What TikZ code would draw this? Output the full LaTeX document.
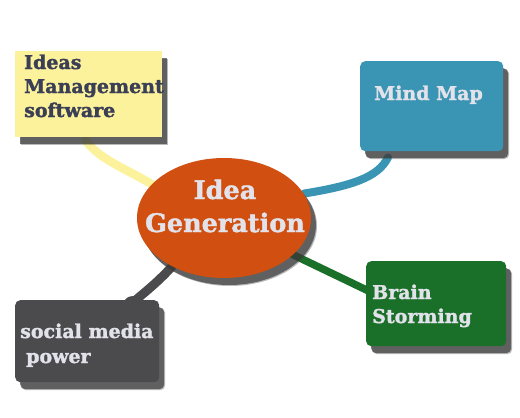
\documentclass[tikz,border=0pt]{standalone}
\usepackage{fontspec}
\setmainfont{DejaVu Serif}[BoldFeatures={FakeBold=1.6}]
\usetikzlibrary{calc,shapes.geometric}
\pgfdeclarelayer{bg}
\pgfdeclarelayer{conn}
\pgfsetlayers{bg,conn,main}
\definecolor{ybox}{HTML}{FDF29C}
\definecolor{ytext}{HTML}{3B3F55}
\definecolor{bbox}{HTML}{3A94B4}
\definecolor{gbox}{HTML}{1B7029}
\definecolor{dbox}{HTML}{4B4A4D}
\definecolor{ell}{HTML}{D14F10}
\definecolor{ltext}{HTML}{E2E2EA}
\definecolor{shad}{HTML}{3A3A3A}
\tikzset{
  boxtext/.style={anchor=base west, inner sep=0pt, align=left, font=\bfseries\fontsize{19}{24}\selectfont},
  conn/.style={line width=8.5pt, line cap=round},
  shadowed/.style={preaction={fill=shad, opacity=0.35, transform canvas={shift={(6pt,-8pt)}}},
                   preaction={fill=shad, opacity=0.7, transform canvas={shift={(5pt,-7pt)}}}},
  rbox/.style={shadowed, rounded corners=5pt, inner sep=0pt, anchor=north west},
}
\begin{document}
\begin{tikzpicture}[x=1pt,y=-1pt]
\begin{pgfonlayer}{bg}
\fill[white] (0,0) rectangle (520,418);
\end{pgfonlayer}
\useasboundingbox (0,0) rectangle (520,418);
% boxes
\node[shadowed, fill=ybox, minimum width=147pt, minimum height=86pt, inner sep=0pt, anchor=north west] (yb) at (15,51) {};
\node[rbox, fill=bbox, minimum width=143pt, minimum height=90pt] (bb) at (360,61) {};
\node[rbox, fill=gbox, minimum width=140pt, minimum height=85pt] (gb) at (366,261) {};
\node[rbox, fill=dbox, minimum width=144pt, minimum height=82pt] (db) at (15,300) {};
\node[shadowed, fill=ell, ellipse, minimum width=174pt, minimum height=120pt, inner sep=0pt] (el) at (224,218) {};
% connector ends
\coordinate (ye) at ($(yb.south)+(-3,3)$);
\coordinate (be) at ($(bb.south west)+(28,6)$);
\coordinate (ge) at ($(gb.west)+(2,-13)$);
\coordinate (de) at ($(db.north east)+(-26,2)$);
\begin{pgfonlayer}{conn}
\draw[conn, color=ybox] (ye) .. controls (100,160) and (125,168) .. (el.155);
\draw[conn, color=bbox, line width=8pt] (el.17) .. controls (350,186) and (378,178) .. (be);
\draw[conn, color=gbox, line width=7.5pt] (el.-28) -- (ge);
\draw[conn, color=dbox, line width=9pt] (el.223) .. controls (158,282) and (145,292) .. (de);
\fill[dbox] (de) ellipse (9pt and 6pt);
\end{pgfonlayer}
% texts (anchor base = last line)
\node[boxtext, text=ytext] (yt) at (24,117) {Ideas\\Management\\software};
\node[boxtext, text=ltext] (bt) at (374,100) {Mind Map};
\node[boxtext, text=ltext] (gt) at (372,323) {Brain\\Storming};
\node[boxtext, text=ltext, font=\bfseries\fontsize{19}{25}\selectfont] (dt) at (20,363) {social media\\\hspace*{6pt}power};
\node[inner sep=0pt, text=ltext, align=center, font=\bfseries\fontsize{25.5}{33}\selectfont, anchor=base] (et) at (225,232) {Idea\\Generation};
\end{tikzpicture}
\end{document}
